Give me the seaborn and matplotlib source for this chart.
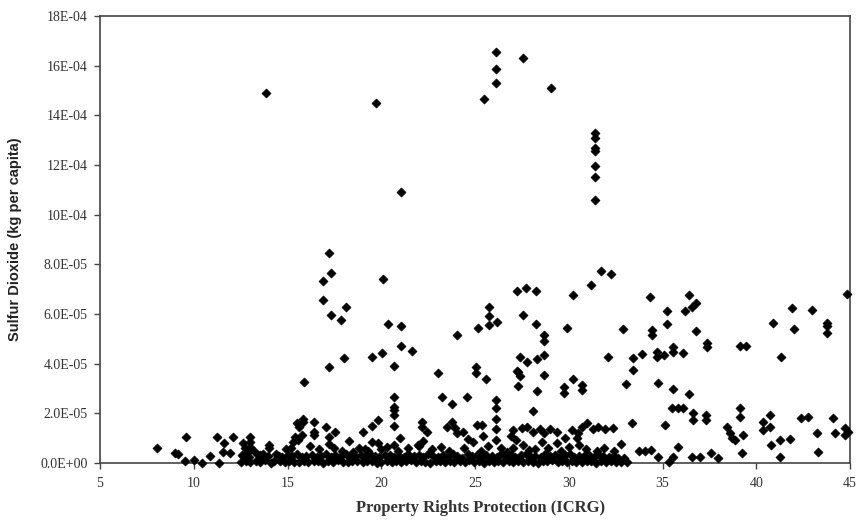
import matplotlib
matplotlib.use("Agg")
import matplotlib.pyplot as plt
from matplotlib.font_manager import FontProperties
import seaborn as sns
import pandas as pd

# ---- data: x = ICRG property rights index, y = SO2 in units of 1e-5 kg per capita ----
upper_x = [13.85, 19.72, 21.05, 25.48, 26.12, 26.12, 26.12, 27.56, 29.05,
           31.4, 31.4, 31.4, 31.4, 31.4, 31.4, 31.4]
upper_y = [14.9, 14.5, 10.9, 14.66, 16.55, 15.87, 15.3, 16.3, 15.1,
           13.29, 13.09, 12.69, 12.56, 11.96, 11.52, 10.59]

mid_x = [17.21, 17.3, 16.89, 16.9, 17.3, 17.85, 18.1, 18.0, 17.2,
         20.1, 20.36, 21.05, 21.05, 21.63, 20.04, 19.5, 20.68, 23.03,
         24.04, 25.16, 25.75, 25.75, 25.75, 26.17, 25.05, 25.05, 25.6,
         27.24, 27.72, 28.25, 27.56, 28.25, 28.68, 28.68, 27.4, 27.77, 28.3, 28.68, 27.24, 27.4, 28.68,
         31.72, 32.25, 31.19, 30.23, 34.33, 36.41, 36.79, 36.57, 36.2, 35.24, 35.24, 34.44, 34.44,
         32.89, 29.9, 36.79, 37.37, 37.37, 39.13, 39.45, 40.89, 41.91, 42.97, 43.77, 43.77, 43.77,
         42.01, 44.84, 41.32, 35.56, 35.56, 36.1, 34.71, 34.71, 35.08, 33.91, 33.4, 33.4, 32.1, 30.23]
mid_y = [8.46, 7.65, 7.33, 6.56, 5.96, 5.76, 6.28, 4.23, 3.87,
         7.41, 5.6, 5.52, 4.71, 4.51, 4.43, 4.27, 3.91, 3.62,
         5.15, 5.43, 6.28, 5.92, 5.56, 5.68, 3.87, 3.62, 3.38,
         6.93, 7.05, 6.93, 5.96, 5.6, 5.15, 4.91, 4.27, 4.07, 4.19, 4.35, 3.7, 3.5, 3.54,
         7.73, 7.61, 7.17, 6.77, 6.69, 6.77, 6.44, 6.28, 6.12, 6.12, 5.6, 5.36, 5.15,
         5.4, 5.43, 5.32, 4.83, 4.67, 4.71, 4.71, 5.64, 6.24, 6.16, 5.64, 5.52, 5.24,
         5.4, 6.81, 4.27, 4.67, 4.47, 4.43, 4.47, 4.27, 4.35, 4.39, 4.23, 3.75, 4.27, 3.4]

low_x = [23.24, 23.77, 24.57, 26.1, 26.1, 26.1, 26.1, 26.1, 27.3, 27.3, 28.3, 28.09,
         29.75, 29.75, 30.71, 30.71, 33.05, 34.76, 35.56, 35.5, 35.85, 36.1, 36.41, 36.63, 36.63,
         37.3, 37.3, 39.13, 39.13, 38.44, 38.6, 38.87, 39.29, 39.24, 40.36, 40.36, 40.73, 40.73,
         40.79, 41.27, 41.8, 41.27, 42.39, 42.76, 43.24, 43.29, 44.09, 44.2, 44.73, 44.73, 44.89,
         32.79, 33.75, 34.07, 34.39, 34.76, 35.35, 35.83, 35.56, 36.57, 37.0, 37.59, 37.96,
         33.37, 35.13, 31.93, 32.36, 38.71,
         8.04, 9.0, 9.16, 9.53, 9.59, 10.01, 10.44, 10.87, 11.24, 11.35, 11.6, 11.56, 11.93,
         12.09, 12.63, 12.73, 13.0, 13.0, 13.0, 12.57, 12.84, 13.53, 13.69, 14.01, 14.01, 14.55,
         15.29, 15.51, 15.61, 15.4, 15.77, 15.56, 15.83, 15.83, 15.88, 16.41, 16.41, 16.41,
         17.05, 17.21, 17.53, 18.49, 19.03, 19.51, 19.83, 19.51, 19.83, 20.31,
         20.68, 20.68, 20.68, 20.68, 20.68, 20.68, 22.17, 22.17, 22.44, 21.96, 24.04, 23.51,
         19.13, 22.01, 23.77, 23.93, 24.36, 24.89, 25.43, 25.1, 25.37,
         27.03, 27.51, 27.77, 28.09, 28.47, 28.68, 29.0, 29.37, 27.19, 27.56, 27.88, 28.57, 29.37,
         30.17, 30.49, 30.44, 30.55, 30.71, 30.97, 31.29, 31.56]
low_y = [2.66, 2.38, 2.66, 2.54, 2.21, 1.77, 1.37, 0.93, 3.66, 3.1, 2.9, 2.09,
         3.06, 2.82, 3.14, 2.94, 3.18, 3.22, 2.98, 2.2, 2.2, 2.2, 2.78, 2.01, 1.73,
         1.92, 1.75, 2.21, 1.85, 1.45, 1.21, 0.93, 1.13, 0.4, 1.65, 1.33, 1.93, 1.45,
         0.72, 0.93, 0.97, 0.24, 1.81, 1.85, 1.21, 0.44, 1.81, 1.21, 1.41, 1.13, 1.25,
         0.77, 0.48, 0.48, 0.52, 0.24, 0.04, 0.64, 0.24, 0.24, 0.24, 0.4, 0.2,
         1.61, 1.53, 1.37, 1.41, 1.01,
         0.6, 0.4, 0.36, 0.08, 1.05, 0.12, 0.0, 0.28, 1.05, 0.0, 0.8, 0.44, 0.4,
         1.05, 0.8, 0.6, 1.05, 0.85, 0.64, 0.32, 0.4, 0.32, 0.36, 0.72, 0.6, 0.28,
         0.85, 1.61, 1.45, 1.05, 1.13, 0.93, 1.77, 1.65, 3.26, 1.65, 1.25, 1.13,
         1.45, 1.05, 1.25, 0.44, 1.25, 1.49, 1.73, 0.85, 0.8, 0.64,
         2.66, 2.26, 2.13, 1.93, 1.49, 0.72, 1.65, 1.45, 1.25, 0.72, 1.21, 1.45,
         0.56, 0.68, 1.65, 1.41, 1.25, 0.85, 1.09, 1.53, 1.53,
         1.33, 1.41, 1.45, 1.25, 1.37, 1.21, 1.37, 1.25, 0.93, 0.72, 0.52, 0.85, 0.8,
         1.33, 1.21, 1.01, 0.72, 1.45, 1.61, 1.37, 1.45]

band_x = [12.5, 12.8, 13.0, 13.3, 13.55, 13.8, 14.1, 14.3, 14.6, 14.85, 15.1, 15.35, 15.6, 15.9,
          16.1, 16.4, 16.65, 16.9, 17.15, 17.4, 17.7, 17.95, 18.2, 18.45, 18.7, 19.0, 19.25, 19.5,
          19.75, 20.0, 20.3, 20.55, 20.8, 21.05, 21.3, 21.6, 21.85, 22.1, 22.35, 22.6, 22.9, 23.15,
          23.4, 23.65, 23.9, 24.2, 24.45, 24.7, 24.95, 25.2, 25.5, 25.75, 26.0, 26.25, 26.5, 26.8,
          27.05, 27.3, 27.55, 27.8, 28.1, 28.35, 28.6, 28.85, 29.1, 29.4, 29.65, 29.9, 30.15, 30.4,
          30.7, 30.95, 31.2, 31.45, 31.7, 32.0, 32.25, 32.5, 32.8, 33.1,
          12.65, 12.95, 13.4, 13.7, 13.95, 14.4, 14.7, 15.0, 15.25, 15.5, 15.75, 16.0, 16.3, 16.55,
          16.8, 17.05, 17.3, 17.55, 17.85, 18.1, 18.35, 18.6, 18.9, 19.15, 19.4, 19.65, 19.9, 20.2,
          20.45, 20.7, 20.95, 21.2, 21.45, 21.75, 22.0, 22.25, 22.5, 22.75, 23.0, 23.3, 23.55, 23.8,
          24.05, 24.3, 24.6, 24.85, 25.1, 25.35, 25.6, 25.9, 26.15, 26.4, 26.65, 26.9, 27.15, 27.45,
          27.7, 27.95, 28.2, 28.5, 28.75, 29.0, 29.25, 29.55, 29.8, 30.05, 30.3, 30.55, 30.8, 31.1,
          31.35, 31.6, 31.85, 32.15, 32.4, 32.65, 32.95,
          13.2, 14.9, 15.2, 16.2, 16.7, 17.5, 17.9, 18.8, 19.3, 20.0, 20.9, 21.4, 22.7, 23.2, 23.6,
          24.4, 25.3, 25.7, 26.4, 26.7, 27.0, 28.2, 28.9, 29.6, 30.0, 30.9, 31.5, 31.9, 32.4,
          22.2, 24.6, 26.9, 29.8, 18.3, 17.2, 21.0]
band_y = [0.06, 0.1, 0.03, 0.08, 0.05, 0.11, 0.02, 0.07, 0.09, 0.04, 0.1, 0.06, 0.03, 0.08,
          0.05, 0.1, 0.07, 0.02, 0.09, 0.05, 0.11, 0.06, 0.03, 0.08, 0.1, 0.04, 0.07, 0.09,
          0.02, 0.06, 0.1, 0.05, 0.08, 0.03, 0.07, 0.11, 0.04, 0.09, 0.06, 0.02, 0.08, 0.1,
          0.05, 0.07, 0.03, 0.09, 0.06, 0.11, 0.04, 0.08, 0.02, 0.1, 0.06, 0.07, 0.03, 0.09,
          0.05, 0.1, 0.04, 0.08, 0.06, 0.02, 0.09, 0.07, 0.11, 0.03, 0.08, 0.05, 0.1, 0.06,
          0.04, 0.09, 0.07, 0.02, 0.1, 0.05, 0.08, 0.03, 0.06, 0.04,
          0.3, 0.25, 0.33, 0.22, 0.28, 0.35, 0.24, 0.31, 0.27, 0.36, 0.23, 0.3, 0.34, 0.26,
          0.29, 0.37, 0.24, 0.32, 0.27, 0.35, 0.22, 0.3, 0.33, 0.25, 0.36, 0.28, 0.24, 0.31,
          0.34, 0.26, 0.3, 0.23, 0.35, 0.28, 0.32, 0.25, 0.37, 0.29, 0.24, 0.33, 0.27, 0.35,
          0.3, 0.22, 0.36, 0.28, 0.32, 0.26, 0.34, 0.3, 0.24, 0.37, 0.28, 0.33, 0.25, 0.31,
          0.35, 0.27, 0.3, 0.23, 0.36, 0.29, 0.33, 0.26, 0.31, 0.35, 0.24, 0.3, 0.28, 0.34,
          0.26, 0.32, 0.29, 0.25, 0.3, 0.22, 0.2,
          0.5, 0.55, 0.6, 0.7, 0.55, 0.6, 0.5, 0.62, 0.5, 0.55, 0.5, 0.6, 0.55, 0.65, 0.5,
          0.6, 0.5, 0.7, 0.6, 0.45, 0.6, 0.55, 0.6, 0.5, 0.65, 0.55, 0.5, 0.6, 0.5,
          0.9, 0.95, 1.1, 1.0, 0.9, 0.75, 1.0]

x_ticks = [5, 10, 15, 20, 25, 30, 35, 40, 45]
y_ticks = [0, 2, 4, 6, 8, 10, 12, 14, 16, 18]
y_tick_labels = ["0.0E+00", "2.0E-05", "4.0E-05", "6.0E-05", "8.0E-05",
                 "10E-04", "12E-04", "14E-04", "16E-04", "18E-04"]

df = pd.DataFrame({
    "icrg": upper_x + mid_x + low_x + band_x,
    "so2": upper_y + mid_y + low_y + band_y,
})

sns.set_style("ticks")
plt.rcParams["font.family"] = ["Liberation Serif", "DejaVu Serif"]

fig = plt.figure(figsize=(8.59, 5.21), dpi=100)
ax = fig.add_axes([100 / 859, 1 - 463 / 521, 750 / 859, 447 / 521])

sns.scatterplot(data=df, x="icrg", y="so2", ax=ax, marker="D", s=21,
                color="black", edgecolor="black", linewidth=0.5, legend=False,
                clip_on=False, zorder=3)

ax.set_xlim(5, 45)
ax.set_ylim(0, 18)
ax.set_xticks(x_ticks)
ax.set_xticklabels([str(t) for t in x_ticks])
ax.set_yticks(y_ticks)
ax.set_yticklabels(y_tick_labels)

spine_col = "#444444"
for side in ["left", "bottom", "top", "right"]:
    ax.spines[side].set_visible(True)
    ax.spines[side].set_color(spine_col)
    ax.spines[side].set_linewidth(1.2)

ax.tick_params(axis="both", direction="out", length=4, width=1.0, color=spine_col,
               labelsize=10, labelcolor="#333333")
ax.tick_params(axis="x", pad=6)
ax.tick_params(axis="y", pad=5)

xlab_fp = FontProperties(family="Liberation Serif", weight="bold", size=12)
ylab_fp = FontProperties(family="Liberation Sans", weight="bold", size=10.5)
ax.set_xlabel("Property Rights Protection (ICRG)", fontproperties=xlab_fp, color="#333333")
ax.xaxis.set_label_coords(0.507, -0.082)
ax.set_ylabel("Sulfur Dioxide (kg per capita)", fontproperties=ylab_fp, color="#222222")
ax.yaxis.set_label_coords(-0.104, 0.5)

fig.savefig("out.png", dpi=100)
